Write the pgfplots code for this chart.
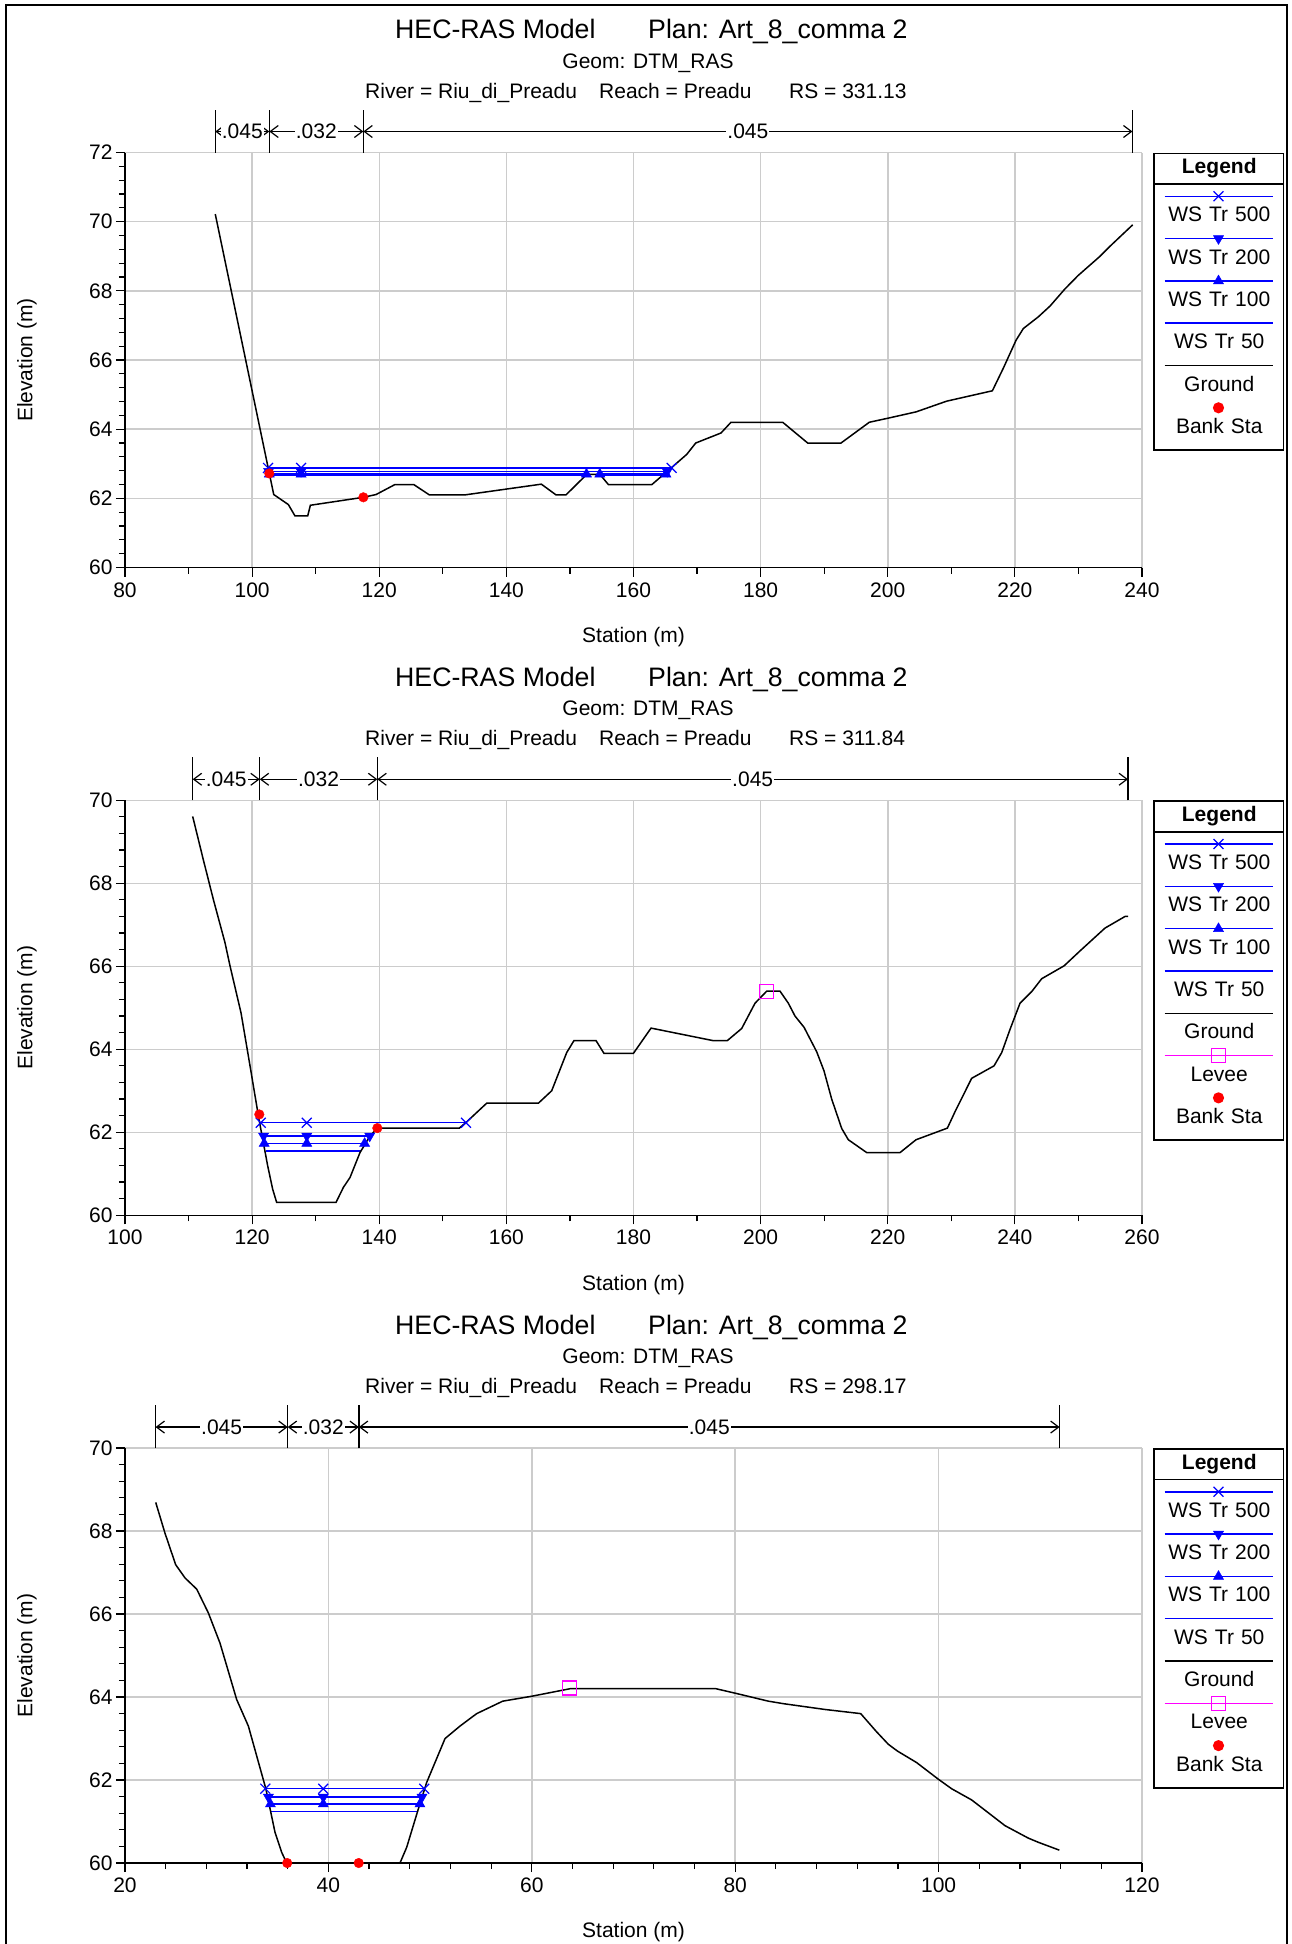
\documentclass[border=0pt]{standalone}
\usepackage{fontspec}
\setmainfont{Liberation Sans}
\usepackage{pgfplots}
\pgfplotsset{compat=1.18}
\usetikzlibrary{arrows.meta}

\definecolor{gridgray}{RGB}{204,204,204}
\definecolor{wsblue}{RGB}{0,0,255}
\definecolor{leveepink}{RGB}{255,0,255}

\newcommand\fs{\fontsize{21}{25}\selectfont}
\newcommand\ft{\fontsize{26.7}{31}\selectfont}
% struts that fix the height of each legend row
\newcommand\lhead{\rule[-9.7pt]{0pt}{28.8pt}}
\newcommand\lrow{\rule[-4pt]{0pt}{40.8pt}}
\newcommand\llast{\rule[-16.8pt]{0pt}{53.6pt}}

\tikzset{mannlbl/.style={fill=white, inner sep=1pt, font=\fs}}

\pgfplotsset{
  lgline/.style={legend image code/.code={%
      \draw[##1,overlay,mark repeat=2,mark phase=2] plot coordinates {(10pt,-12pt)(64pt,-12pt)(118pt,-12pt)};
      \path (0pt,0pt);}},
  lgmark/.style={legend image code/.code={%
      \draw[##1,overlay] plot coordinates {(64pt,-12pt)};
      \path (0pt,0pt);}},
  lglevee/.style={legend image code/.code={%
      \draw[leveepink,line width=1.5pt,overlay] (10pt,-12pt) -- (118pt,-12pt);
      \draw[##1,overlay] plot coordinates {(64pt,-12pt)};
      \path (0pt,0pt);}},
  lghead/.style={legend image code/.code={%
      \draw[black,line width=1.5pt,overlay] (0pt,-30pt) -- (128pt,-30pt);
      \path (0pt,0pt);}},
  ws500/.style={color=wsblue, line width=1.5pt, mark=x, mark size=7pt, mark options={line width=1.2pt}, lgline},
  ws200/.style={color=wsblue, line width=1.5pt, mark=triangle*, mark size=5.8pt, mark options={rotate=180, line width=0.5pt}, lgline},
  ws100/.style={color=wsblue, line width=1.5pt, mark=triangle*, mark size=5.8pt, mark options={line width=0.5pt}, lgline},
  ws50/.style={color=wsblue, line width=1.5pt, no markers, lgline},
  ground/.style={color=black, line width=1.5pt, no markers, lgline},
  banksta/.style={only marks, color=red, mark=*, mark size=4.8pt, lgmark},
  leveemk/.style={only marks, color=leveepink, mark=square, mark size=7pt, mark options={line width=1.3pt}, lglevee},
  mann/.style={black, line width=1.2pt, forget plot, no markers},
  mannarr/.style={mann, arrows={Straight Barb[length=8pt,width=12pt]-Straight Barb[length=8pt,width=12pt]}},
  hec/.style={
    scale only axis, width=1017pt, height=415pt, anchor=north west,
    axis x line*=bottom, axis y line*=left,
    axis line style={-, black, line width=1.5pt},
    grid=major, major grid style={gridgray, line width=1.5pt},
    tick align=outside,
    major tick length=9pt, minor tick length=6pt,
    tick style={black, line width=1.2pt},
    minor y tick num=4,
    ticklabel style={font=\fs},
    xticklabel style={yshift=-2.5pt},
    /pgf/number format/assume math mode=true,
    scaled ticks=false,
    xlabel={Station (m)}, ylabel={Elevation (m)},
    label style={font=\fs},
    xlabel style={at={(axis description cs:0.5,-0.167)}, anchor=center},
    ylabel style={at={(axis description cs:-0.0964,0.5)}, anchor=center},
    unbounded coords=jump,
    clip=false,
    legend style={at={(1,1)}, anchor=north west, xshift=11pt,
      draw=black, line width=1.5pt, fill=white,
      inner sep=0pt, row sep=0pt, column sep=0pt,
      cells={anchor=north},
      nodes={inner sep=0pt, text width=128pt, align=center, text depth=, text height=, font=\fs}},
  },
}

\newcommand\paneltitle[2]{%
  \node[anchor=base west,font=\ft,inner sep=0pt] at (395pt,{-38.7pt-#1pt}) {HEC-RAS Model};
  \node[anchor=base west,font=\ft,inner sep=0pt] at (648pt,{-38.7pt-#1pt}) {Plan: Art\_8\_comma 2};
  \node[anchor=base,font=\fs,inner sep=0pt] at (648pt,{-68.2pt-#1pt}) {Geom: DTM\_RAS};
  \node[anchor=base west,font=\fs,inner sep=0pt] at (365pt,{-98.1pt-#1pt}) {River = Riu\_di\_Preadu};
  \node[anchor=base west,font=\fs,inner sep=0pt] at (599pt,{-98.1pt-#1pt}) {Reach = Preadu};
  \node[anchor=base west,font=\fs,inner sep=0pt] at (789pt,{-98.1pt-#1pt}) {RS = #2};
}

\begin{document}
\begin{tikzpicture}
\useasboundingbox (0pt,0pt) rectangle (1292pt,-1944pt);
\draw[line width=2.5pt] (6pt,-1944pt) -- (6pt,-5pt) -- (1287pt,-5pt) -- (1287pt,-1944pt);

%% ---------------- RS = 331.13
\paneltitle{0}{331.13}
\begin{axis}[hec, at={(125pt,-152.5pt)},
  xmin=80, xmax=240, xtick={80,100,...,240}, minor x tick num=1,
  ymin=60, ymax=72, ytick={60,62,...,72}]
\addlegendimage{lghead}
\addlegendentry{\textbf{Legend}\lhead}
\addplot[ws500] coordinates {(102.5,62.88)(107.7,62.88)(166.0,62.88)};
\addlegendentry{WS Tr 500\lrow}
\addplot[ws200] coordinates {(102.6,62.78)(107.7,62.78)(165.3,62.78)};
\addlegendentry{WS Tr 200\lrow}
\addplot[ws100] coordinates {(102.7,62.70)(107.7,62.70)(152.6,62.70)(153.7,nan)(154.7,62.70)(165.1,62.70)};
\addlegendentry{WS Tr 100\lrow}
\addplot[ws50] coordinates {(102.75,62.66)(152.4,62.66)(153.7,nan)(155.0,62.66)(164.9,62.66)};
\addlegendentry{WS Tr 50\lrow}
\addplot[ground] coordinates {
 (94.2,70.22)(103.4,62.11)(105.7,61.82)(106.75,61.49)(108.74,61.49)(109.16,61.80)
 (117.5,62.03)(119.5,62.11)(122.48,62.40)(125.42,62.40)(127.88,62.10)(133.49,62.10)
 (145.5,62.41)(147.81,62.10)(149.38,62.10)(152.63,62.69)(154.73,62.69)(156.04,62.40)
 (162.9,62.40)(165.75,62.85)(168.37,63.27)(169.79,63.60)(173.77,63.89)(175.34,64.20)
 (183.47,64.20)(187.4,63.60)(192.65,63.60)(197.1,64.20)(200.1,64.32)(204.45,64.50)
 (209.27,64.81)(216.46,65.11)(218.2,65.77)(220.18,66.57)(221.33,66.91)(223.7,67.25)
 (225.53,67.56)(227.9,68.06)(229.99,68.45)(233.4,69.0)(234.97,69.29)(238.54,69.91)};
\addlegendentry{Ground\lrow}
\addplot[banksta] coordinates {(102.7,62.72)(117.5,62.03)};
\addlegendentry{Bank Sta\llast}
% Manning's n bar
\addplot[mann] coordinates {(94.2,72)(94.2,73.243)};
\addplot[mann] coordinates {(102.7,72)(102.7,73.243)};
\addplot[mann] coordinates {(117.5,72)(117.5,73.243)};
\addplot[mann] coordinates {(238.5,72)(238.5,73.243)};
\addplot[mannarr] coordinates {(94.2,72.607)(102.7,72.607)} node[mannlbl,pos=0.5]{.045};
\addplot[mannarr] coordinates {(102.7,72.607)(117.5,72.607)} node[mannlbl,pos=0.5]{.032};
\addplot[mannarr] coordinates {(117.5,72.607)(238.5,72.607)} node[mannlbl,pos=0.5]{.045};
\end{axis}

%% ---------------- RS = 311.84
\paneltitle{647.75}{311.84}
\begin{axis}[hec, at={(125pt,-800.25pt)},
  xmin=100, xmax=260, xtick={100,120,...,260}, minor x tick num=1,
  ymin=60, ymax=70, ytick={60,62,...,70}]
\addlegendimage{lghead}
\addlegendentry{\textbf{Legend}\lhead}
\addplot[ws500] coordinates {(121.35,62.23)(128.6,62.23)(153.65,62.23)};
\addlegendentry{WS Tr 500\lrow}
\addplot[ws200] coordinates {(121.8,61.91)(128.6,61.91)(138.5,61.91)};
\addlegendentry{WS Tr 200\lrow}
\addplot[ws100] coordinates {(121.9,61.73)(128.6,61.73)(137.7,61.73)};
\addlegendentry{WS Tr 100\lrow}
\addplot[ws50] coordinates {(122.2,61.55)(137.2,61.55)};
\addlegendentry{WS Tr 50\lrow}
\addplot[ground] coordinates {
 (110.65,69.61)(112.3,68.58)(113.9,67.61)(115.73,66.57)(116.52,66.01)(118.25,64.88)
 (119.67,63.60)(121.08,62.31)(122.45,61.19)(123.23,60.63)(123.86,60.31)(133.2,60.31)
 (134.35,60.67)(135.4,60.91)(136.97,61.51)(138.55,61.91)(139.7,62.10)(152.6,62.10)
 (153.75,62.25)(156.9,62.70)(165.03,62.70)(167.13,63.0)(169.49,63.92)(170.64,64.21)
 (174.1,64.21)(175.36,63.90)(179.98,63.90)(182.76,64.51)(192.46,64.21)(194.77,64.21)
 (197.02,64.50)(199.12,65.11)(200.96,65.40)(203.05,65.40)(204.36,65.11)(205.41,64.80)
 (206.83,64.53)(208.82,63.94)(209.97,63.48)(211.18,62.80)(212.76,62.09)(213.8,61.82)
 (216.69,61.51)(221.93,61.51)(224.45,61.82)(229.38,62.10)(230.6,62.50)(233.2,63.30)
 (236.72,63.60)(237.93,63.92)(239.24,64.48)(240.81,65.11)(242.65,65.39)(244.22,65.70)
 (247.74,66.01)(250.25,66.37)(254.18,66.92)(257.33,67.20)(257.8,67.20)};
\addlegendentry{Ground\lrow}
\addplot[leveemk] coordinates {(200.9,65.40)};
\addlegendentry{Levee\lrow}
\addplot[banksta] coordinates {(121.13,62.43)(139.7,62.10)};
\addlegendentry{Bank Sta\llast}
\addplot[mann] coordinates {(110.65,70)(110.65,71.036)};
\addplot[mann] coordinates {(121.2,70)(121.2,71.036)};
\addplot[mann] coordinates {(139.7,70)(139.7,71.036)};
\addplot[mann] coordinates {(257.8,70)(257.8,71.036)};
\addplot[mannarr] coordinates {(110.65,70.506)(121.2,70.506)} node[mannlbl,pos=0.5]{.045};
\addplot[mannarr] coordinates {(121.2,70.506)(139.7,70.506)} node[mannlbl,pos=0.5]{.032};
\addplot[mannarr] coordinates {(139.7,70.506)(257.8,70.506)} node[mannlbl,pos=0.5]{.045};
\end{axis}

%% ---------------- RS = 298.17
\paneltitle{1295.5}{298.17}
\begin{axis}[hec, at={(125pt,-1448pt)},
  xmin=20, xmax=120, xtick={20,40,...,120}, minor x tick num=4,
  ymin=60, ymax=70, ytick={60,62,...,70}]
\addlegendimage{lghead}
\addlegendentry{\textbf{Legend}\lhead}
\addplot[ws500] coordinates {(33.8,61.79)(39.5,61.79)(49.43,61.79)};
\addlegendentry{WS Tr 500\lrow}
\addplot[ws200] coordinates {(34.1,61.59)(39.5,61.59)(49.2,61.59)};
\addlegendentry{WS Tr 200\lrow}
\addplot[ws100] coordinates {(34.3,61.42)(39.5,61.42)(49.0,61.42)};
\addlegendentry{WS Tr 100\lrow}
\addplot[ws50] coordinates {(34.4,61.24)(48.8,61.24)};
\addlegendentry{WS Tr 50\lrow}
\addplot[ground] coordinates {
 (23.02,68.69)(23.93,67.95)(24.98,67.19)(25.9,66.87)(27.05,66.60)(28.19,66.03)
 (29.34,65.30)(30.98,63.94)(32.13,63.30)(32.95,62.58)(33.86,61.78)(34.75,60.74)
 (35.4,60.26)(35.9,60.0)(47.04,60.0)(47.7,60.38)(48.84,61.30)(49.66,61.94)
 (51.47,63.0)(52.94,63.30)(54.58,63.6)(57.14,63.90)(60.02,64.02)(63.76,64.20)
 (78.11,64.2)(80.04,64.09)(83.26,63.90)(84.73,63.84)(88.83,63.70)(92.34,63.60)
 (93.91,63.16)(95.06,62.86)(95.94,62.70)(97.84,62.42)(99.97,62.02)(101.28,61.79)
 (103.25,61.52)(105.05,61.18)(106.53,60.90)(108.82,60.60)(109.8,60.50)(111.87,60.31)};
\addlegendentry{Ground\lrow}
\addplot[leveemk] coordinates {(63.7,64.22)};
\addlegendentry{Levee\lrow}
\addplot[banksta] coordinates {(35.95,60.0)(42.98,60.0)};
\addlegendentry{Bank Sta\llast}
\addplot[mann] coordinates {(23.0,70)(23.0,71.034)};
\addplot[mann] coordinates {(36.0,70)(36.0,71.034)};
\addplot[mann] coordinates {(43.0,70)(43.0,71.034)};
\addplot[mann] coordinates {(111.9,70)(111.9,71.034)};
\addplot[mannarr] coordinates {(23.0,70.505)(36.0,70.505)} node[mannlbl,pos=0.5]{.045};
\addplot[mannarr] coordinates {(36.0,70.505)(43.0,70.505)} node[mannlbl,pos=0.5]{.032};
\addplot[mannarr] coordinates {(43.0,70.505)(111.9,70.505)} node[mannlbl,pos=0.5]{.045};
\end{axis}
\end{tikzpicture}
\end{document}
